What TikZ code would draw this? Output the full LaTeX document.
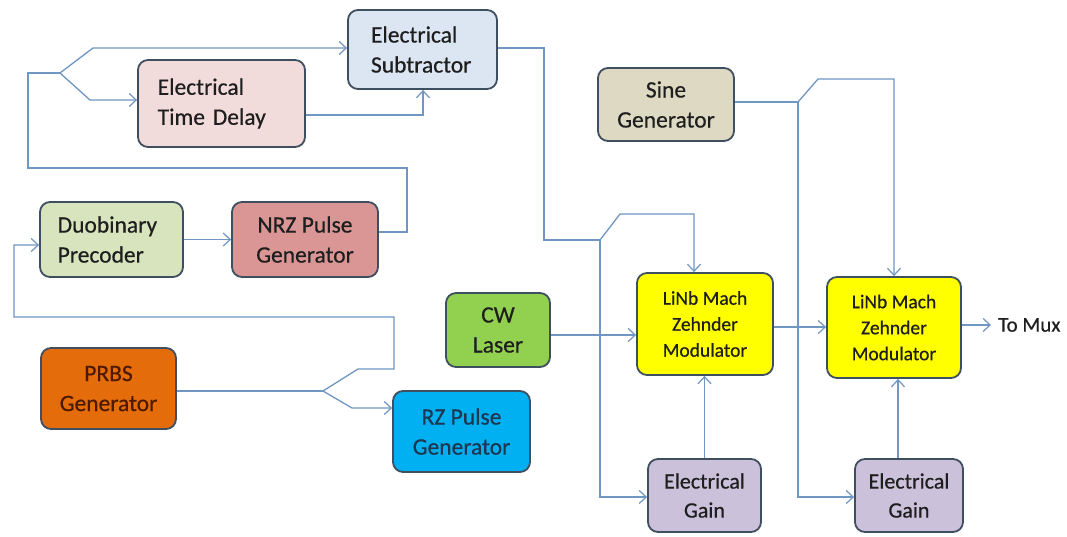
\documentclass[tikz,border=0pt]{standalone}
\usepackage{fontspec}
\setmainfont{Carlito}[FakeBold=0.5]
\newfontfamily\boxfont{Carlito}[FakeBold=0.5]
\usetikzlibrary{arrows.meta}
\definecolor{bordc}{HTML}{3F4F60}
\definecolor{linec}{HTML}{7096C2}
\definecolor{txtc}{HTML}{1E1E1E}
\definecolor{subfill}{HTML}{DCE6F2}
\definecolor{delfill}{HTML}{F2DCDB}
\definecolor{duofill}{HTML}{D7E4BD}
\definecolor{nrzfill}{HTML}{D99694}
\definecolor{prbsfill}{HTML}{E46C0A}
\definecolor{rzfill}{HTML}{00B0F0}
\definecolor{cwfill}{HTML}{92D050}
\definecolor{sinefill}{HTML}{DDD9C3}
\definecolor{mzmfill}{HTML}{FFFF00}
\definecolor{gainfill}{HTML}{CCC1DA}
\definecolor{prbstxt}{HTML}{4D1A00}
\definecolor{rztxt}{HTML}{1E3650}
\begin{document}
\begin{tikzpicture}[x=1pt,y=-1pt,
  blk/.style={draw=bordc, line width=1.8pt, rounded corners=10pt, inner sep=0pt,
    align=center, text=txtc, font=\boxfont\fontsize{23.5}{30}\selectfont},
  conn/.style={draw=linec, line width=1.3pt},
  arr/.style={conn, -{Straight Barb[length=7pt,width=13pt,line width=1.2pt]}},
]
\useasboundingbox[fill=white] (0,0) rectangle (1067,536);

% blocks
\node[blk, fill=subfill, minimum width=149pt, minimum height=79pt, text width=103pt, align=left] (sub) at (422.5,49.5) {Electrical\\Subtractor};
\node[blk, fill=delfill, minimum width=167pt, minimum height=87pt, text width=127.6pt, align=left] (del) at (221.5,103.5) {Electrical\\Time Delay};
\node[blk, fill=duofill, minimum width=143pt, minimum height=75pt, text width=107.6pt, align=left] (duo) at (111.5,239.5) {Duobinary\\Precoder};
\node[blk, fill=nrzfill, minimum width=146pt, minimum height=75pt] (nrz) at (305,239.5) {NRZ Pulse\\Generator};
\node[blk, fill=prbsfill, minimum width=135pt, minimum height=81pt, text=prbstxt] (prbs) at (108.5,388.5) {PRBS\\Generator};
\node[blk, fill=rzfill, minimum width=137pt, minimum height=81pt, text=rztxt] (rz) at (461.5,431.5) {RZ Pulse\\Generator};
\node[blk, fill=cwfill, minimum width=104pt, minimum height=74pt] (cw) at (498,330) {CW\\Laser};
\node[blk, fill=sinefill, minimum width=136pt, minimum height=73pt] (sine) at (666,104.5) {Sine\\Generator};
\node[blk, fill=mzmfill, minimum width=136pt, minimum height=102pt, font=\boxfont\fontsize{19.5}{26}\selectfont] (mzm1) at (705,324) {LiNb Mach\\Zehnder\\Modulator};
\node[blk, fill=mzmfill, minimum width=134pt, minimum height=101pt, font=\boxfont\fontsize{19.5}{26}\selectfont] (mzm2) at (894,327.5) {LiNb Mach\\Zehnder\\Modulator};
\node[blk, fill=gainfill, minimum width=113pt, minimum height=73pt, font=\boxfont\fontsize{22}{29}\selectfont] (gain1) at (704.5,495.5) {Electrical\\Gain};
\node[blk, fill=gainfill, minimum width=108pt, minimum height=73pt, font=\boxfont\fontsize{22}{29}\selectfont] (gain2) at (909,495.5) {Electrical\\Gain};
\node[anchor=west, inner sep=0pt, text=txtc, font=\boxfont\fontsize{21}{26}\selectfont] (mux) at (998,325) {To Mux};

% junction / corner coordinates
\coordinate (n1) at (407,232);
\coordinate (s1) at (60,73);
\coordinate (s1a) at (93,48);
\coordinate (s1b) at (90,100);
\coordinate (d1) at (423,115);
\coordinate (s2) at (323,391);
\coordinate (s2a) at (358,369);
\coordinate (s2b) at (352,408);
\coordinate (p1) at (14,245);
\coordinate (o1) at (544,48);
\coordinate (s3) at (600,240);
\coordinate (s3a) at (620,214);
\coordinate (s3b) at (694,214);
\coordinate (g1) at (600,497);
\coordinate (s4) at (798,102);
\coordinate (s4a) at (818,79);
\coordinate (s4b) at (894,79);
\coordinate (g2) at (798,497);
\coordinate (c7) at (0,335);
\coordinate (c8) at (0,327);
\coordinate (c11) at (898,0);

% NRZ output loop to split
\draw[conn] (nrz.east |- n1) -- (n1) -- (407,168) -- (28,168) -- (28,73) -- (s1);
\draw[arr] (s1) -- (s1a) -- (sub.west |- s1a);
\draw[arr] (s1) -- (s1b) -- (del.west |- s1b);
% delay -> subtractor
\draw[arr] (del.east |- d1) -- (d1) -- (sub.south -| d1);
% duobinary -> NRZ
\draw[arr] (duo.east) -- (nrz.west);
% PRBS split
\draw[conn] (prbs.east |- s2) -- (s2);
\draw[arr] (s2) -- (s2a) -- (394,369) -- (394,317) -- (14,317) -- (p1) -- (duo.west |- p1);
\draw[arr] (s2) -- (s2b) -- (rz.west |- s2b);
% subtractor output
\draw[conn] (sub.east |- o1) -- (o1) -- (544,240) -- (s3);
\draw[arr] (s3) -- (s3a) -- (s3b) -- (mzm1.north -| s3b);
\draw[arr] (s3) -- (g1) -- (gain1.west |- g1);
% sine output
\draw[conn] (sine.east |- s4) -- (s4);
\draw[arr] (s4) -- (s4a) -- (s4b) -- (mzm2.north -| s4b);
\draw[arr] (s4) -- (g2) -- (gain2.west |- g2);
% optical path
\draw[arr] (cw.east |- c7) -- (mzm1.west |- c7);
\draw[arr] (mzm1.east |- c8) -- (mzm2.west |- c8);
\draw[arr] (mzm2.east |- mux) -- ([xshift=-7pt]mux.west);
% gains
\draw[arr] (gain1.north) -- (gain1.north |- mzm1.south);
\draw[arr] (gain2.north -| c11) -- (mzm2.south -| c11);
\end{tikzpicture}
\end{document}
